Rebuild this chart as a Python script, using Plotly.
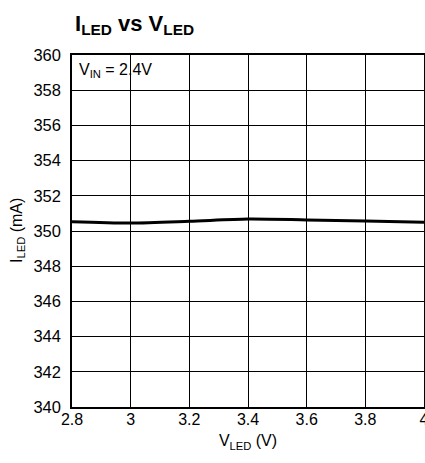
import plotly.graph_objects as go

v_led = [2.8, 3.0, 3.2, 3.4, 3.6, 3.8, 4.0]
i_led = [350.53, 350.45, 350.55, 350.68, 350.63, 350.57, 350.5]
x_ticks = [2.8, 3.0, 3.2, 3.4, 3.6, 3.8, 4.0]
x_tick_labels = ["2.8", "3", "3.2", "3.4", "3.6", "3.8", "4"]
y_ticks = list(range(340, 361, 2))

FONT = "Liberation Sans, Arial, sans-serif"
L, R, T, B, W, H = 72, 1, 55, 56, 425, 463
PW = W - L - R

fig = go.Figure()
fig.add_trace(go.Scatter(x=v_led, y=i_led, mode="lines",
                         line=dict(color="black", width=3, shape="spline", smoothing=0.8),
                         showlegend=False, hoverinfo="skip"))

fig.update_layout(
    width=W, height=H,
    margin=dict(l=L, r=R, t=T, b=B),
    paper_bgcolor="white", plot_bgcolor="white",
    font=dict(family=FONT, size=16, color="black"),
    title=dict(text="<b>I<sub>LED</sub> vs V<sub>LED</sub></b>",
               x=75/W, xanchor="left", y=1-23/H, yanchor="middle",
               font=dict(family=FONT, size=22, color="black")),
)
fig.update_xaxes(range=[2.8, 4.0], tickvals=x_ticks, ticktext=x_tick_labels,
                 showgrid=True, gridcolor="black", gridwidth=1,
                 showline=True, linecolor="black", linewidth=1.5, mirror=True,
                 ticks="", zeroline=False, ticklabelstandoff=-3,
                 ticklabeloverflow="allow", automargin=False,
                 tickfont=dict(size=16),
                 title=dict(text="V<sub>LED</sub> (V)", font=dict(size=16), standoff=8))
fig.update_yaxes(range=[340, 360], tickvals=y_ticks,
                 showgrid=True, gridcolor="black", gridwidth=1,
                 showline=True, linecolor="black", linewidth=1.5, mirror=True,
                 ticks="", zeroline=False, ticklabelstandoff=6, automargin=False,
                 tickfont=dict(size=16.5))

fig.add_annotation(x=(17 - L) / PW, y=0.5, xref="paper", yref="paper",
                   xanchor="center", yanchor="middle", showarrow=False, textangle=-90,
                   text="I<sub>LED</sub> (mA)", font=dict(size=16, family=FONT))

fig.add_annotation(x=0.015, y=0.99, xref="paper", yref="paper",
                   xanchor="left", yanchor="top", showarrow=False,
                   text="V<sub>IN</sub> = 2.4V", font=dict(size=16, family=FONT))

fig.write_html("out.html", config={"displayModeBar": False},
               post_script="document.body.style.margin='0';document.body.style.overflow='hidden';")
